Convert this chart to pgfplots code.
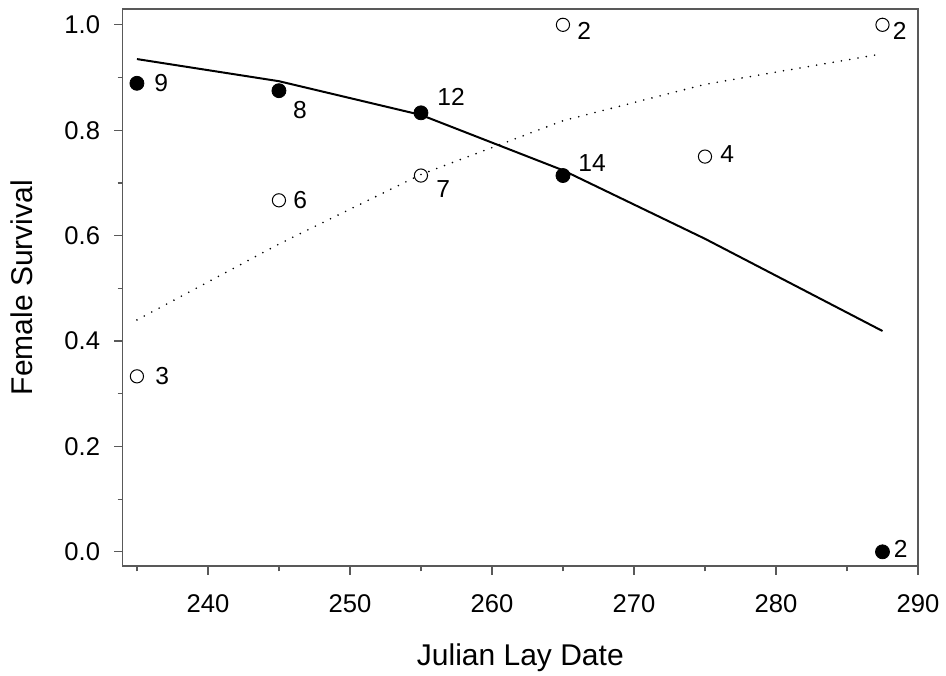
\documentclass[border=0pt]{standalone}
\usepackage{pgfplots}
\pgfplotsset{compat=1.18}
\usepackage{fontspec}
\setmainfont{Liberation Sans}
\usetikzlibrary{calc}
\begin{document}
\begin{tikzpicture}
\begin{axis}[name=ax, scale only axis, width=397.6pt, height=278.5pt,
 xmin=234, xmax=290, ymin=-0.027, ymax=1.03,
 xtick={240,250,...,290}, minor xtick={235,245,...,285},
 ytick={0,0.2,0.4,0.6,0.8,1.0}, minor ytick={0.1,0.3,0.5,0.7,0.9},
 xtick pos=bottom, ytick pos=left, tick align=outside,
 major tick length=4.3pt, minor tick length=2.6pt,
 axis line style={black!65, line width=0.6pt},
 tick style={black!65, line width=0.6pt},
 /pgf/number format/assume math mode=true,
 tick label style={font=\fontsize{12.8}{15}\selectfont, black},
 xticklabel style={yshift=-6.5pt},
 yticklabel style={xshift=-3.5pt, /pgf/number format/.cd, fixed, fixed zerofill, precision=1},
 xlabel={Julian Lay Date}, ylabel={Female Survival},
 label style={font=\fontsize{15}{18}\selectfont},
 xlabel style={at={(axis description cs:0.5,-0.1777)}, anchor=base, inner sep=0pt},
 ylabel style={at={(axis description cs:-0.113,0.5)}, anchor=south, inner sep=0pt},
 clip=false,
]
\addplot[black, line width=1pt] coordinates {(235,0.935)(245,0.893)(255,0.829)(265,0.724)(275,0.594)(287.5,0.419)};
\addplot[black, line width=0.9pt, line cap=round, dash pattern=on 0pt off 4.2pt] coordinates {(235,0.44)(245,0.584)(255,0.716)(265,0.818)(275,0.887)(287.5,0.945)};
\addplot[only marks, mark=*, mark size=3.5pt, mark options={fill=black, draw=black}] coordinates {(235,0.889)(245,0.875)(255,0.833)(265,0.714)(287.5,0)};
\addplot[only marks, mark=o, mark size=3.3pt, mark options={draw=black, line width=0.5pt, fill=white}] coordinates {(235,0.333)(245,0.667)(255,0.714)(265,1.0)(275,0.75)(287.5,1.0)};
\begin{scope}[every node/.style={inner sep=0pt, font=\fontsize{12.3}{14}\selectfont}]
\node[anchor=west, xshift=8.5pt] at (axis cs:235,0.889) {9};
\node[anchor=west, xshift=9pt] at (axis cs:235,0.333) {3};
\node[anchor=center, xshift=10.5pt, yshift=-9.5pt] at (axis cs:245,0.875) {8};
\node[anchor=west, xshift=7pt] at (axis cs:245,0.667) {6};
\node[anchor=west, xshift=8pt, yshift=8pt] at (axis cs:255,0.833) {12};
\node[anchor=west, xshift=7.5pt, yshift=-6.5pt] at (axis cs:255,0.714) {7};
\node[anchor=west, xshift=7pt, yshift=-3pt] at (axis cs:265,1.0) {2};
\node[anchor=west, xshift=7.5pt, yshift=6pt] at (axis cs:265,0.714) {14};
\node[anchor=west, xshift=7.5pt, yshift=1.5pt] at (axis cs:275,0.75) {4};
\node[anchor=west, xshift=5pt, yshift=-3pt] at (axis cs:287.5,1.0) {2};
\node[anchor=west, xshift=5.5pt, yshift=1.5pt] at (axis cs:287.5,0) {2};
\end{scope}
\end{axis}
\pgfresetboundingbox
\path ($(ax.south west)+(-61.35pt,-54.5pt)$) rectangle ($(ax.north east)+(14pt,4.5pt)$);
\end{tikzpicture}
\end{document}
